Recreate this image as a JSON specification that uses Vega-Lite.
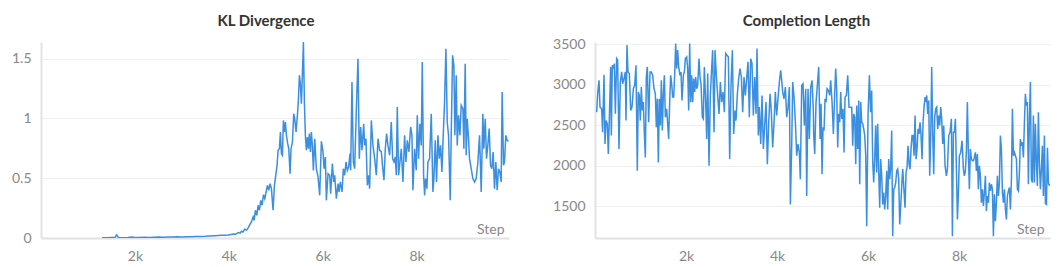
{
"$schema":"https://vega.github.io/schema/vega-lite/v6.json",
"padding":{"left":5,"top":14,"right":5,"bottom":0},
"background":"white",
"config":{"font":"Lato","view":{"stroke":null},
"axis":{"labelFont":"Lato","labelFontSize":14,"labelColor":"#888888","domainColor":"#e2e2e2","domainWidth":2,"ticks":false,"gridColor":"#f0f0f0","titleFont":"Lato","titleFontSize":14,"titleColor":"#888888","titleFontWeight":"normal"},
"title":{"font":"Lato","fontSize":15,"fontWeight":"bold","color":"#333333","baseline":"alphabetic","frame":"group"}},
"datasets":{
"kl":[
{"step":1300,"value":0.003},{"step":1400,"value":0.002},{"step":1500,"value":0.004},{"step":1580,"value":0.006},{"step":1610,"value":0.026},{"step":1650,"value":0.004},{"step":1750,"value":0.003},{"step":1850,"value":0.005},{"step":1930,"value":0.009},{"step":2000,"value":0.004},{"step":2100,"value":0.005},{"step":2200,"value":0.006},{"step":2300,"value":0.005},{"step":2400,"value":0.007},{"step":2500,"value":0.008},{"step":2600,"value":0.007},{"step":2700,"value":0.009},{"step":2800,"value":0.008},{"step":2900,"value":0.010},{"step":3000,"value":0.009},{"step":3100,"value":0.011},{"step":3200,"value":0.010},{"step":3300,"value":0.012},{"step":3400,"value":0.013},{"step":3500,"value":0.014},{"step":3600,"value":0.016},
{"step":3703,"value":0.018},{"step":3780,"value":0.020},{"step":3845,"value":0.022},{"step":3920,"value":0.024},{"step":3987,"value":0.026},{"step":4050,"value":0.030},{"step":4093,"value":0.034},{"step":4150,"value":0.031},{"step":4200,"value":0.045},{"step":4240,"value":0.040},{"step":4270,"value":0.056},{"step":4300,"value":0.050},{"step":4341,"value":0.073},{"step":4380,"value":0.066},{"step":4412,"value":0.084},{"step":4448,"value":0.112},{"step":4483,"value":0.134},{"step":4519,"value":0.176},{"step":4540,"value":0.148},{"step":4568,"value":0.232},{"step":4597,"value":0.190},{"step":4625,"value":0.274},{"step":4653,"value":0.232},{"step":4682,"value":0.315},{"step":4710,"value":0.274},{"step":4739,"value":0.363},{"step":4767,"value":0.329},{"step":4795,"value":0.385},{"step":4824,"value":0.441},{"step":4852,"value":0.399},{"step":4880,"value":0.455},{"step":4909,"value":0.413},{"step":4944,"value":0.232},{"step":4973,"value":0.441},{"step":5001,"value":0.524},{"step":5029,"value":0.608},{"step":5051,"value":0.734},{"step":5079,"value":0.747},{"step":5100,"value":0.887},{"step":5122,"value":0.706},{"step":5143,"value":0.692},{"step":5164,"value":0.984},{"step":5185,"value":0.887},{"step":5207,"value":0.970},{"step":5228,"value":0.859},{"step":5256,"value":0.789},{"step":5278,"value":0.747},{"step":5306,"value":0.538},{"step":5327,"value":0.747},{"step":5356,"value":0.803},{"step":5384,"value":1.040},{"step":5405,"value":0.998},{"step":5434,"value":0.887},{"step":5462,"value":1.026},{"step":5483,"value":1.152},{"step":5505,"value":1.361},{"step":5526,"value":1.291},{"step":5547,"value":1.124},{"step":5568,"value":1.361},{"step":5590,"value":1.639},{"step":5611,"value":1.138},{"step":5632,"value":0.859},{"step":5654,"value":0.734},{"step":5675,"value":0.845},{"step":5696,"value":0.747},{"step":5717,"value":0.873},{"step":5739,"value":0.720},{"step":5760,"value":0.887},{"step":5781,"value":0.775},{"step":5803,"value":0.566},
{"step":5831,"value":0.831},{"step":5866,"value":0.580},{"step":5902,"value":0.511},{"step":5937,"value":0.357},{"step":5973,"value":0.809},{"step":6008,"value":0.720},{"step":6030,"value":0.580},{"step":6058,"value":0.678},{"step":6079,"value":0.315},{"step":6115,"value":0.538},{"step":6150,"value":0.525},{"step":6171,"value":0.371},{"step":6207,"value":0.622},{"step":6235,"value":0.469},{"step":6257,"value":0.525},{"step":6292,"value":0.329},{"step":6328,"value":0.455},{"step":6349,"value":0.385},{"step":6377,"value":0.469},{"step":6413,"value":0.385},{"step":6441,"value":0.580},{"step":6469,"value":0.525},{"step":6498,"value":0.636},{"step":6526,"value":0.566},{"step":6554,"value":0.594},{"step":6583,"value":0.706},{"step":6597,"value":0.566},{"step":6625,"value":1.305},{"step":6654,"value":0.636},{"step":6682,"value":0.580},{"step":6718,"value":1.082},{"step":6753,"value":1.500},{"step":6781,"value":0.664},{"step":6810,"value":0.929},{"step":6838,"value":0.734},{"step":6874,"value":0.956},{"step":6895,"value":0.775},{"step":6923,"value":0.831},{"step":6952,"value":0.441},{"step":6980,"value":0.525},{"step":7001,"value":0.413},{"step":7037,"value":0.984},{"step":7072,"value":0.775},{"step":7108,"value":0.664},{"step":7143,"value":0.525},{"step":7179,"value":0.831},{"step":7214,"value":0.734},{"step":7250,"value":0.720},{"step":7278,"value":0.594},{"step":7306,"value":0.483},{"step":7335,"value":0.747},{"step":7363,"value":0.873},{"step":7391,"value":0.775},{"step":7427,"value":0.692},{"step":7462,"value":0.970},{"step":7491,"value":0.664},{"step":7519,"value":0.636},{"step":7548,"value":0.678},{"step":7569,"value":0.525},{"step":7590,"value":1.096},{"step":7618,"value":0.525},{"step":7647,"value":0.636},{"step":7675,"value":0.747},{"step":7711,"value":0.469},{"step":7746,"value":0.859},{"step":7774,"value":0.636},{"step":7803,"value":0.817},{"step":7838,"value":0.720},{"step":7874,"value":0.929},{"step":7902,"value":0.859},{"step":7923,"value":0.399},
{"step":7959,"value":0.747},{"step":7994,"value":0.566},{"step":8016,"value":1.026},{"step":8044,"value":0.664},{"step":8072,"value":0.956},{"step":8101,"value":0.775},{"step":8122,"value":1.472},{"step":8151,"value":0.525},{"step":8172,"value":0.357},{"step":8193,"value":0.497},{"step":8221,"value":0.413},{"step":8243,"value":0.636},{"step":8278,"value":0.664},{"step":8314,"value":1.040},{"step":8349,"value":0.385},{"step":8370,"value":0.497},{"step":8399,"value":0.817},{"step":8427,"value":0.469},{"step":8456,"value":0.859},{"step":8484,"value":0.664},{"step":8512,"value":0.775},{"step":8541,"value":0.552},{"step":8569,"value":0.859},{"step":8597,"value":1.138},{"step":8626,"value":1.584},{"step":8654,"value":0.970},{"step":8682,"value":0.859},{"step":8718,"value":0.315},{"step":8739,"value":0.859},{"step":8768,"value":1.528},{"step":8796,"value":1.444},{"step":8817,"value":0.859},{"step":8846,"value":1.361},{"step":8867,"value":0.775},{"step":8895,"value":1.026},{"step":8924,"value":0.859},{"step":8952,"value":1.110},{"step":8988,"value":1.082},{"step":9009,"value":0.747},{"step":9037,"value":1.458},{"step":9058,"value":0.692},{"step":9080,"value":0.998},{"step":9108,"value":0.831},{"step":9129,"value":0.664},{"step":9165,"value":0.580},{"step":9200,"value":0.497},{"step":9236,"value":0.469},{"step":9271,"value":0.497},{"step":9307,"value":0.636},{"step":9342,"value":0.859},{"step":9378,"value":0.385},{"step":9413,"value":1.040},{"step":9434,"value":0.747},{"step":9463,"value":0.998},{"step":9491,"value":0.664},{"step":9519,"value":0.775},{"step":9548,"value":0.915},{"step":9576,"value":0.608},{"step":9605,"value":0.580},{"step":9633,"value":0.720},{"step":9661,"value":0.413},{"step":9690,"value":0.636},{"step":9718,"value":0.399},{"step":9746,"value":0.580},{"step":9775,"value":0.552},{"step":9803,"value":0.469},{"step":9824,"value":1.221},{"step":9853,"value":0.608},{"step":9874,"value":0.636},{"step":9902,"value":0.859},{"step":9931,"value":0.817},{"step":9959,"value":0.809}
],
"len":[
{"step":37,"value":2662},{"step":59,"value":2890},{"step":88,"value":3056},{"step":110,"value":2724},{"step":146,"value":2703},{"step":168,"value":2413},{"step":198,"value":3126},{"step":220,"value":2268},{"step":242,"value":2558},{"step":271,"value":2517},{"step":293,"value":2144},{"step":315,"value":2579},{"step":344,"value":3222},{"step":359,"value":2372},{"step":381,"value":3242},{"step":403,"value":3201},{"step":425,"value":3263},{"step":447,"value":2641},{"step":476,"value":3325},{"step":498,"value":3305},{"step":527,"value":2206},{"step":557,"value":3035},{"step":586,"value":3160},{"step":608,"value":3014},{"step":637,"value":3077},{"step":667,"value":3160},{"step":681,"value":2558},{"step":703,"value":3491},{"step":725,"value":3160},{"step":755,"value":3139},{"step":784,"value":2683},{"step":813,"value":2724},{"step":843,"value":2952},{"step":872,"value":2994},{"step":901,"value":3242},{"step":930,"value":1936},{"step":952,"value":2911},{"step":974,"value":2869},{"step":996,"value":2558},{"step":1018,"value":2973},{"step":1040,"value":2683},{"step":1062,"value":2786},{"step":1084,"value":2413},{"step":1106,"value":2102},{"step":1128,"value":3097},{"step":1150,"value":3222},{"step":1180,"value":2537},{"step":1209,"value":3160},{"step":1238,"value":3160},{"step":1267,"value":3118},{"step":1297,"value":2952},{"step":1326,"value":2890},{"step":1348,"value":2475},{"step":1370,"value":2828},{"step":1392,"value":2040},{"step":1414,"value":2828},{"step":1436,"value":2496},{"step":1458,"value":3056},{"step":1480,"value":2434},{"step":1502,"value":2890},{"step":1524,"value":3118},{"step":1546,"value":2600},{"step":1575,"value":2703},{"step":1597,"value":2517},{"step":1619,"value":2330},{"step":1641,"value":2786},{"step":1663,"value":3118},{"step":1685,"value":3014},{"step":1707,"value":2848},{"step":1729,"value":2848},{"step":1751,"value":3118},{"step":1773,"value":3512},{"step":1795,"value":3201},{"step":1817,"value":3429},{"step":1839,"value":3222},{"step":1868,"value":3118},{"step":1890,"value":3160},{"step":1912,"value":2807},{"step":1942,"value":3118},{"step":1964,"value":3160},{"step":1986,"value":3325},{"step":2015,"value":3346},{"step":2037,"value":3201},{"step":2059,"value":2683},{"step":2081,"value":3512},{"step":2103,"value":2786},{"step":2125,"value":3118},{"step":2147,"value":2786},{"step":2169,"value":3077},{"step":2191,"value":2911},{"step":2213,"value":3097},{"step":2235,"value":2952},{"step":2257,"value":2994},{"step":2286,"value":3325},
{"step":2308,"value":3097},{"step":2330,"value":3014},{"step":2359,"value":2600},{"step":2381,"value":2579},{"step":2403,"value":3222},{"step":2433,"value":2786},{"step":2455,"value":2330},{"step":2477,"value":3139},{"step":2506,"value":1998},{"step":2535,"value":2869},{"step":2564,"value":3201},{"step":2586,"value":3429},{"step":2616,"value":2413},{"step":2638,"value":3429},{"step":2667,"value":3118},{"step":2696,"value":2869},{"step":2726,"value":2641},{"step":2755,"value":3035},{"step":2784,"value":2786},{"step":2814,"value":2911},{"step":2843,"value":2662},{"step":2872,"value":3388},{"step":2901,"value":3367},{"step":2931,"value":3346},{"step":2960,"value":2081},{"step":2989,"value":2994},{"step":3019,"value":3429},{"step":3048,"value":2392},{"step":3077,"value":2683},{"step":3099,"value":2558},{"step":3129,"value":2890},{"step":3158,"value":3077},{"step":3187,"value":3201},{"step":3217,"value":3097},{"step":3246,"value":2662},{"step":3275,"value":3097},{"step":3304,"value":2869},{"step":3334,"value":3077},{"step":3363,"value":3284},{"step":3392,"value":2600},{"step":3422,"value":3325},{"step":3451,"value":3263},{"step":3480,"value":2620},{"step":3510,"value":3097},{"step":3539,"value":2641},{"step":3561,"value":3450},{"step":3590,"value":2372},{"step":3612,"value":2724},{"step":3642,"value":2268},{"step":3671,"value":2869},{"step":3700,"value":2206},{"step":3729,"value":2496},{"step":3759,"value":2786},{"step":3788,"value":2019},{"step":3817,"value":2517},{"step":3847,"value":2890},{"step":3876,"value":2662},{"step":3905,"value":2226},{"step":3935,"value":2537},{"step":3964,"value":2911},{"step":3993,"value":2620},{"step":4022,"value":2828},{"step":4052,"value":3035},{"step":4081,"value":3180},{"step":4103,"value":3056},{"step":4125,"value":2911},{"step":4154,"value":2828},{"step":4184,"value":2973},{"step":4213,"value":2600},{"step":4242,"value":2724},{"step":4272,"value":2973},{"step":4294,"value":1521},{"step":4323,"value":2247},{"step":4345,"value":3035},{"step":4374,"value":2848},{"step":4404,"value":2537},{"step":4433,"value":2123},{"step":4462,"value":2268},{"step":4491,"value":2164},{"step":4513,"value":1832},{"step":4543,"value":2994},{"step":4572,"value":3014},{"step":4601,"value":2496},{"step":4631,"value":2952},{"step":4653,"value":1625},{"step":4682,"value":2952},{"step":4711,"value":2330},{"step":4741,"value":2973},{"step":4770,"value":3056},{"step":4799,"value":2683},
{"step":4807,"value":2372},{"step":4829,"value":2144},{"step":4858,"value":2786},{"step":4887,"value":2994},{"step":4917,"value":3222},{"step":4946,"value":2330},{"step":4968,"value":2766},{"step":4990,"value":1895},{"step":5012,"value":2475},{"step":5034,"value":2434},{"step":5056,"value":2828},{"step":5078,"value":2786},{"step":5100,"value":2952},{"step":5129,"value":2931},{"step":5158,"value":2869},{"step":5180,"value":3056},{"step":5210,"value":2786},{"step":5239,"value":2392},{"step":5268,"value":2890},{"step":5290,"value":3201},{"step":5312,"value":2931},{"step":5334,"value":2226},{"step":5356,"value":2641},{"step":5378,"value":2537},{"step":5400,"value":2911},{"step":5422,"value":2579},{"step":5451,"value":2703},{"step":5473,"value":2164},{"step":5495,"value":2848},{"step":5525,"value":2869},{"step":5554,"value":3118},{"step":5583,"value":2724},{"step":5613,"value":2724},{"step":5642,"value":2724},{"step":5664,"value":2247},{"step":5686,"value":2641},{"step":5708,"value":2600},{"step":5730,"value":2019},{"step":5752,"value":2745},{"step":5774,"value":2206},{"step":5796,"value":2807},{"step":5818,"value":1770},{"step":5840,"value":2786},{"step":5862,"value":2537},{"step":5884,"value":2517},{"step":5906,"value":2455},{"step":5928,"value":2372},{"step":5950,"value":2123},{"step":5972,"value":1252},{"step":6001,"value":2620},{"step":6030,"value":3118},{"step":6059,"value":2662},{"step":6081,"value":2931},{"step":6103,"value":2061},{"step":6125,"value":1791},{"step":6147,"value":2081},{"step":6169,"value":2496},{"step":6191,"value":1915},{"step":6213,"value":2517},{"step":6235,"value":1936},{"step":6257,"value":1480},{"step":6279,"value":2081},{"step":6301,"value":1874},{"step":6323,"value":1521},{"step":6345,"value":1667},{"step":6367,"value":1459},{"step":6389,"value":1625},{"step":6411,"value":1936},{"step":6433,"value":1459},{"step":6455,"value":2081},{"step":6477,"value":1832},{"step":6499,"value":1978},{"step":6521,"value":2434},{"step":6543,"value":1127},{"step":6565,"value":1708},{"step":6587,"value":1729},{"step":6609,"value":1791},{"step":6631,"value":1936},{"step":6653,"value":1957},{"step":6675,"value":1832},{"step":6697,"value":1273},{"step":6719,"value":1501},{"step":6741,"value":1750},{"step":6763,"value":1957},{"step":6785,"value":1750},{"step":6814,"value":1480},{"step":6836,"value":1915},{"step":6858,"value":1978},{"step":6880,"value":2247},{"step":6902,"value":2019},{"step":6924,"value":1957},{"step":6946,"value":2206},{"step":6968,"value":2372},{"step":6990,"value":2372},{"step":7012,"value":2123},{"step":7034,"value":2620},{"step":7056,"value":2081},{"step":7078,"value":2206},{"step":7100,"value":2455},{"step":7122,"value":2392},{"step":7144,"value":2537},
{"step":7166,"value":2372},{"step":7188,"value":2081},{"step":7210,"value":2537},{"step":7232,"value":2724},{"step":7254,"value":2848},{"step":7276,"value":2786},{"step":7291,"value":2869},{"step":7313,"value":2641},{"step":7335,"value":2807},{"step":7356,"value":1874},{"step":7378,"value":2330},{"step":7400,"value":3222},{"step":7422,"value":2413},{"step":7444,"value":1895},{"step":7466,"value":2600},{"step":7488,"value":2703},{"step":7510,"value":2724},{"step":7532,"value":2455},{"step":7554,"value":2620},{"step":7576,"value":2496},{"step":7598,"value":2724},{"step":7620,"value":2579},{"step":7642,"value":2268},{"step":7664,"value":2496},{"step":7694,"value":1998},{"step":7723,"value":1874},{"step":7745,"value":1957},{"step":7774,"value":2372},{"step":7803,"value":2413},{"step":7833,"value":2579},{"step":7855,"value":1127},{"step":7877,"value":2413},{"step":7899,"value":2413},{"step":7921,"value":2579},{"step":7943,"value":1957},{"step":7965,"value":1335},{"step":7987,"value":1667},{"step":8009,"value":2123},{"step":8038,"value":2164},{"step":8067,"value":2309},{"step":8097,"value":1957},{"step":8118,"value":1874},{"step":8140,"value":1936},{"step":8162,"value":2164},{"step":8184,"value":2786},{"step":8206,"value":2144},{"step":8228,"value":1708},{"step":8250,"value":2206},{"step":8272,"value":2081},{"step":8294,"value":2061},{"step":8316,"value":2061},{"step":8338,"value":2102},{"step":8360,"value":2164},{"step":8382,"value":1936},{"step":8404,"value":2144},{"step":8426,"value":1708},{"step":8448,"value":1998},{"step":8470,"value":1874},{"step":8492,"value":1542},{"step":8514,"value":1708},{"step":8536,"value":1501},{"step":8558,"value":1667},{"step":8580,"value":1874},{"step":8602,"value":1439},{"step":8624,"value":1625},{"step":8646,"value":1542},{"step":8668,"value":1791},{"step":8690,"value":1687},{"step":8712,"value":1770},{"step":8734,"value":1708},{"step":8756,"value":1127},{"step":8778,"value":1646},{"step":8800,"value":1314},{"step":8822,"value":1542},{"step":8844,"value":1874},{"step":8866,"value":1625},{"step":8888,"value":1791},{"step":8910,"value":2372},{"step":8932,"value":2206},{"step":8954,"value":1667},{"step":8976,"value":1542},{"step":8998,"value":1708},{"step":9020,"value":1459},{"step":9042,"value":1335},{"step":9064,"value":1625},{"step":9086,"value":1687},{"step":9108,"value":1729},{"step":9130,"value":1459},{"step":9152,"value":1832},{"step":9174,"value":2703},{"step":9196,"value":2123},{"step":9218,"value":2164},{"step":9240,"value":2123},{"step":9262,"value":2081},{"step":9284,"value":1708},{"step":9306,"value":1687},{"step":9328,"value":1915},{"step":9349,"value":2330},{"step":9371,"value":2247},{"step":9393,"value":2289},{"step":9415,"value":2102},{"step":9437,"value":2517},{"step":9459,"value":2890},{"step":9481,"value":2745},{"step":9503,"value":2786},{"step":9525,"value":1770},{"step":9547,"value":2579},{"step":9569,"value":3035},{"step":9591,"value":1832},{"step":9613,"value":1791},{"step":9635,"value":2620},{"step":9657,"value":1791},{"step":9679,"value":2517},{"step":9701,"value":2040},{"step":9723,"value":1750},{"step":9745,"value":2662},{"step":9767,"value":2040},{"step":9789,"value":1708},{"step":9811,"value":1957},{"step":9833,"value":2247},{"step":9855,"value":1625},{"step":9877,"value":2372},{"step":9900,"value":1530},{"step":9922,"value":1520},{"step":9944,"value":2220},{"step":9966,"value":1780},{"step":9985,"value":1760},{"step":10000,"value":1770}
]},
"spacing":36,
"hconcat":[
{"width":468,"height":196,
"title":{"text":"KL Divergence","dx":-9,"offset":13},
"data":{"name":"kl"},
"mark":{"type":"line","color":"#3b8fe0","strokeWidth":1.5,"clip":true},
"encoding":{
"x":{"field":"step","type":"quantitative","scale":{"domain":[0,9970],"nice":false,"zero":false},"axis":{"values":[2000,4000,6000,8000],"labelExpr":"datum.value/1000 + 'k'","grid":false,"title":"Step","titleAlign":"right","titleBaseline":"alphabetic","titleX":463,"titleY":-5,"labelPadding":11}},
"y":{"field":"value","type":"quantitative","scale":{"domain":[0,1.64],"nice":false},"axis":{"values":[0,0.5,1,1.5],"format":"~g","title":null,"labelPadding":10,"minExtent":36,"maxExtent":36,"grid":true}}}},
{"width":455,"height":196,
"title":{"text":"Completion Length","dx":-16,"offset":8},
"data":{"name":"len"},
"mark":{"type":"line","color":"#3b8fe0","strokeWidth":1.5,"clip":true},
"encoding":{
"x":{"field":"step","type":"quantitative","scale":{"domain":[0,10000],"nice":false,"zero":false},"axis":{"values":[2000,4000,6000,8000],"labelExpr":"datum.value/1000 + 'k'","grid":false,"title":"Step","titleAlign":"right","titleBaseline":"alphabetic","titleX":449,"titleY":-5,"labelPadding":11}},
"y":{"field":"value","type":"quantitative","scale":{"domain":[1105,3530],"nice":false,"zero":false},"axis":{"values":[1500,2000,2500,3000,3500],"format":"d","title":null,"labelPadding":10,"minExtent":50,"maxExtent":50,"grid":true}}}}
]}
